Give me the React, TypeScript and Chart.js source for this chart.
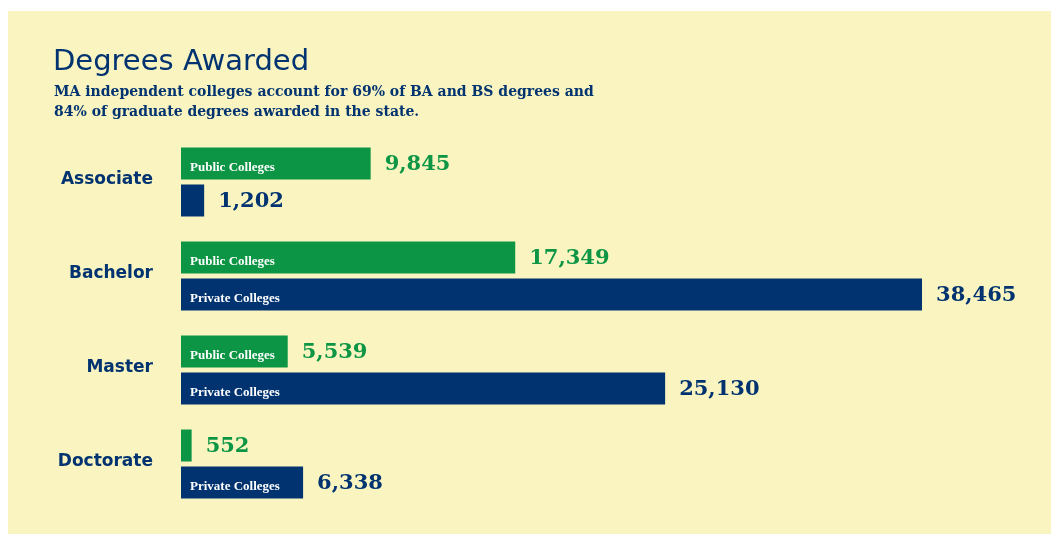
import React, { useEffect, useRef } from "react";
import { Chart, registerables } from "chart.js";

Chart.register(...registerables);

const categories = ["Associate", "Bachelor", "Master", "Doctorate"];
const publicValues = [9845, 17349, 5539, 552];
const privateValues = [1202, 38465, 25130, 6338];
const seriesNames = ["Public Colleges", "Private Colleges"];
const titleText = "Degrees Awarded";
const subtitleLines = [
  "MA independent colleges account for 69% of BA and BS degrees and",
  "84% of graduate degrees awarded in the state.",
];

const GREEN = "#0c9545";
const NAVY = "#003370";
const CREAM = "#faf5c0";

const fmt = (v: number) => v.toLocaleString("en-US");

const decorPlugin = {
  id: "decor",
  beforeDraw(chart: any) {
    const ctx = chart.ctx;
    ctx.save();
    ctx.fillStyle = "#ffffff";
    ctx.fillRect(0, 0, chart.width, chart.height);
    ctx.fillStyle = CREAM;
    ctx.fillRect(8, 11, chart.width - 8, chart.height - 11);
    ctx.fillStyle = NAVY;
    ctx.textBaseline = "alphabetic";
    ctx.textAlign = "left";
    ctx.font = "29px 'DejaVu Sans'";
    ctx.fillText(titleText, 53, 70);
    ctx.font = "bold 14px 'DejaVu Serif'";
    ctx.fillText(subtitleLines[0], 54, 96);
    ctx.fillText(subtitleLines[1], 54, 116);
    ctx.restore();
  },
  afterDatasetsDraw(chart: any) {
    const ctx = chart.ctx;
    ctx.save();
    chart.data.datasets.forEach((ds: any, di: number) => {
      const meta = chart.getDatasetMeta(di);
      meta.data.forEach((bar: any, i: number) => {
        const v = ds.data[i];
        const color = di === 0 ? GREEN : NAVY;
        ctx.font = "bold 21px 'DejaVu Serif'";
        ctx.fillStyle = color;
        ctx.textAlign = "left";
        ctx.textBaseline = "middle";
        ctx.fillText(fmt(v), bar.x + 14, bar.y + 1);
        const w = bar.x - bar.base;
        if (w > 100) {
          ctx.font = "bold 13px 'Liberation Serif'";
          ctx.fillStyle = "#ffffff";
          ctx.fillText(seriesNames[di], bar.base + 9, bar.y + 4);
        }
      });
    });
    ctx.restore();
  },
};

export default function App() {
  const ref = useRef<HTMLCanvasElement | null>(null);
  useEffect(() => {
    if (!ref.current) return;
    const chart = new Chart(ref.current, {
      type: "bar",
      data: {
        labels: categories,
        datasets: [
          {
            label: seriesNames[0],
            data: publicValues,
            backgroundColor: GREEN,
            categoryPercentage: 0.787,
            barPercentage: 0.865,
          },
          {
            label: seriesNames[1],
            data: privateValues,
            backgroundColor: NAVY,
            categoryPercentage: 0.787,
            barPercentage: 0.865,
          },
        ],
      },
      options: {
        indexAxis: "y",
        animation: false,
        responsive: false,
        layout: { padding: { top: 135, bottom: 23, left: 0, right: 0 } },
        plugins: {
          legend: { display: false },
          tooltip: { enabled: false },
          title: { display: false },
        },
        scales: {
          x: { display: false, min: 0, max: 45160 },
          y: {
            grid: {
              display: true,
              drawOnChartArea: false,
              drawTicks: true,
              tickLength: 28,
              color: "rgba(0,0,0,0)",
            },
            border: { display: false },
            afterFit: (scale: any) => {
              scale.width = 181;
            },
            ticks: {
              color: NAVY,
              padding: 0,
              labelOffset: -2,
              font: { family: "'DejaVu Sans'", weight: "bold", size: 17 },
            },
          },
        },
      },
      plugins: [decorPlugin],
    });
    return () => chart.destroy();
  }, []);
  return (
    <div style={{ position: "fixed", left: 0, top: 0, width: 1051, height: 534 }}>
      <canvas ref={ref} width={1051} height={534} style={{ display: "block" }} />
    </div>
  );
}
